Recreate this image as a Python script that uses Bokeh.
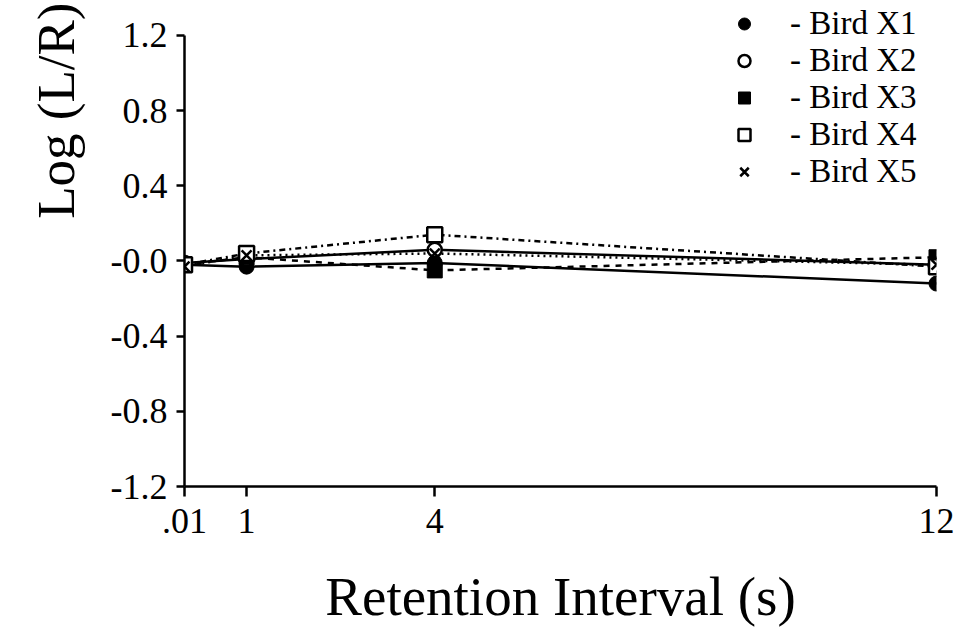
from bokeh.plotting import figure
from bokeh.models import Range1d, FixedTicker, CustomJSTickFormatter, Legend, LegendItem, Title
from bokeh.embed import file_html
from bokeh.resources import INLINE

# Data
intervals = [0.01, 1, 4, 12]
bird_x1 = [-0.02, -0.03, -0.01, -0.12]
bird_x2 = [-0.01, 0.01, 0.06, -0.02]
bird_x3 = [-0.02, 0.02, -0.05, 0.02]
bird_x4 = [-0.02, 0.04, 0.14, -0.03]
bird_x5 = [-0.03, 0.03, 0.04, -0.02]
bird_names = ["- Bird X1", "- Bird X2", "- Bird X3", "- Bird X4", "- Bird X5"]
x_ticks = [0.01, 1, 4, 12]
y_ticks = [-1.2, -0.8, -0.4, 0.0, 0.4, 0.8, 1.2]

FONT = "Liberation Serif"

p = figure(width=961, height=630, output_backend="svg", toolbar_location=None,
           x_range=Range1d(0.01, 12), y_range=Range1d(-1.2, 1.3756),
           min_border_left=184, min_border_right=25, min_border_top=2, min_border_bottom=144)
p.outline_line_color = None
p.xgrid.visible = False
p.ygrid.visible = False
p.background_fill_color = "white"
p.border_fill_color = "white"

for ax in (p.xaxis[0], p.yaxis[0]):
    ax.axis_line_width = 2.5
    ax.major_tick_line_width = 2.5
    ax.minor_tick_line_color = None
    ax.major_tick_in = 0
    ax.major_label_text_font = FONT
    ax.major_label_text_font_size = "36px"
    ax.major_label_text_color = "black"
    ax.axis_label_text_font = FONT
    ax.axis_label_text_font_size = "55px"
    ax.axis_label_text_font_style = "normal"
    ax.axis_label_text_color = "black"

p.xaxis.ticker = FixedTicker(ticks=x_ticks)
p.xaxis.major_tick_out = 10
p.xaxis.major_label_standoff = 12
p.xaxis.formatter = CustomJSTickFormatter(code="return tick < 0.5 ? '.01' : tick.toFixed(0);")
p.xaxis.axis_label = "Retention Interval (s)"
p.xaxis.axis_label_standoff = 30

p.yaxis.ticker = FixedTicker(ticks=y_ticks)
p.yaxis.bounds = (-1.2, 1.2)
p.yaxis.major_tick_out = 8
p.yaxis.major_label_standoff = 9
p.yaxis.formatter = CustomJSTickFormatter(code="return Math.abs(tick) < 1e-9 ? '-0.0' : tick.toFixed(1);")

# y-axis title placed near the top like the reference
ytitle = Title(text="Log (L/R)", align="right", text_font=FONT, text_font_size="53px",
               text_font_style="normal", text_color="black", offset=0, standoff=46)
p.add_layout(ytitle, "left")

series = [bird_x1, bird_x2, bird_x3, bird_x4, bird_x5]
dashes = ["solid", "solid", "dashed", "dashdot", "dotted"]
for ys, d in zip(series, dashes):
    p.line(intervals, ys, line_color="black", line_width=2.5, line_dash=d)

r1 = p.scatter(intervals, bird_x1, marker="circle", size=15, fill_color="black", line_color="black")
r2 = p.scatter(intervals, bird_x2, marker="circle", size=14, fill_color="white", line_color="black", line_width=2.5)
r3 = p.scatter(intervals, bird_x3, marker="square", size=15, fill_color="black", line_color="black")
r4 = p.scatter(intervals, bird_x4, marker="square", size=15, fill_color="white", line_color="black", line_width=2.5)
r5 = p.scatter(intervals, bird_x5, marker="x", size=14, line_color="black", line_width=2.5)

legend = Legend(items=[LegendItem(label=n, renderers=[r]) for n, r in zip(bird_names, [r1, r2, r3, r4, r5])],
                location=(545, 296), padding=0, margin=0, spacing=0,
                label_height=37, glyph_height=37, glyph_width=30, label_standoff=31,
                label_text_font=FONT, label_text_font_size="33px", label_text_color="black",
                label_text_line_height=1.0,
                background_fill_alpha=0, border_line_color=None)
p.add_layout(legend)

open("out.html", "w").write(file_html(p, INLINE))
